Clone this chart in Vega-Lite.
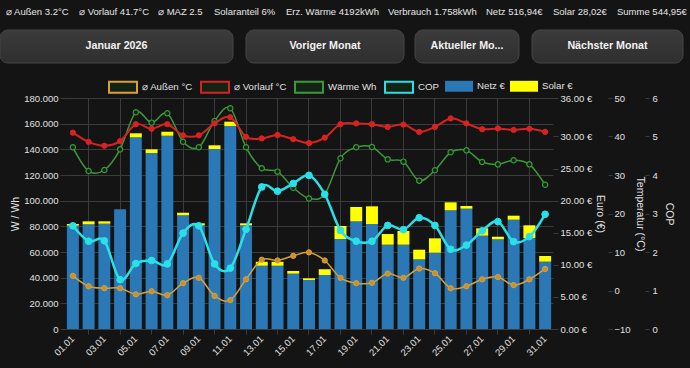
{
  "$schema": "https://vega.github.io/schema/vega-lite/v6.json",
  "width": 488,
  "height": 231,
  "autosize": {"type": "none"},
  "padding": {"left": 65, "top": 98, "right": 137, "bottom": 39},
  "background": "#141414",
  "config": {
    "view": {"stroke": null},
    "font": "Liberation Sans, Arial, sans-serif",
    "axis": {
      "labelColor": "#e0e0e0",
      "titleColor": "#e0e0e0",
      "labelFontSize": 9.5,
      "titleFontSize": 10.5,
      "titleFontWeight": "normal",
      "tickColor": "#3c3c3c",
      "gridColor": "#3c3c3c",
      "domain": false
    },
    "legend": {
      "labelColor": "#e0e0e0",
      "labelFontSize": 9.7
    }
  },
  "datasets": {
    "status": [
      {"t": "⌀ Außen 3.2°C", "x": 6},
      {"t": "⌀ Vorlauf 41.7°C", "x": 79},
      {"t": "⌀ MAZ 2.5", "x": 158},
      {"t": "Solaranteil 6%", "x": 214},
      {"t": "Erz. Wärme 4192kWh", "x": 286},
      {"t": "Verbrauch 1.758kWh", "x": 388},
      {"t": "Netz 516,94€", "x": 486},
      {"t": "Solar 28,02€", "x": 553},
      {"t": "Summe 544,95€", "x": 617}
    ],
    "buttons": [
      {"t": "Januar 2026", "x0": 0, "x1": 233},
      {"t": "Voriger Monat", "x0": 246, "x1": 404},
      {"t": "Aktueller Mo...", "x0": 415, "x1": 519},
      {"t": "Nächster Monat", "x0": 532, "x1": 683}
    ],
    "days": [
      {"day": 1, "aussen": 3.8, "vorlauf": 41.0, "waerme": 141600, "cop": 2.68, "netz": 16.10, "solar": 0.26},
      {"day": 2, "aussen": 1.1, "vorlauf": 38.6, "waerme": 123100, "cop": 2.28, "netz": 16.32, "solar": 0.46},
      {"day": 3, "aussen": 0.6, "vorlauf": 37.6, "waerme": 123900, "cop": 2.29, "netz": 16.41, "solar": 0.37},
      {"day": 4, "aussen": 0.6, "vorlauf": 38.8, "waerme": 140000, "cop": 1.28, "netz": 18.65, "solar": 0},
      {"day": 5, "aussen": -1.0, "vorlauf": 43.2, "waerme": 168900, "cop": 1.70, "netz": 29.87, "solar": 0.63},
      {"day": 6, "aussen": -0.2, "vorlauf": 42.0, "waerme": 160800, "cop": 1.78, "netz": 27.43, "solar": 0.57},
      {"day": 7, "aussen": -1.2, "vorlauf": 43.2, "waerme": 168100, "cop": 1.69, "netz": 30.12, "solar": 0.63},
      {"day": 8, "aussen": 1.9, "vorlauf": 40.3, "waerme": 145900, "cop": 2.49, "netz": 17.72, "solar": 0.40},
      {"day": 9, "aussen": 3.3, "vorlauf": 40.3, "waerme": 141600, "cop": 2.68, "netz": 16.16, "solar": 0.31},
      {"day": 10, "aussen": -1.4, "vorlauf": 43.4, "waerme": 162100, "cop": 1.69, "netz": 28.05, "solar": 0.58},
      {"day": 11, "aussen": -2.5, "vorlauf": 45.0, "waerme": 172000, "cop": 1.58, "netz": 31.64, "solar": 0.67},
      {"day": 12, "aussen": 2.9, "vorlauf": 39.9, "waerme": 141600, "cop": 2.59, "netz": 16.16, "solar": 0.31},
      {"day": 13, "aussen": 8.0, "vorlauf": 39.5, "waerme": 125200, "cop": 3.69, "netz": 9.86, "solar": 0.62},
      {"day": 14, "aussen": 7.8, "vorlauf": 40.4, "waerme": 122600, "cop": 3.58, "netz": 9.86, "solar": 0.62},
      {"day": 15, "aussen": 9.0, "vorlauf": 39.3, "waerme": 110100, "cop": 3.78, "netz": 8.62, "solar": 0.42},
      {"day": 16, "aussen": 9.9, "vorlauf": 38.3, "waerme": 101700, "cop": 3.99, "netz": 7.64, "solar": 0.26},
      {"day": 17, "aussen": 7.8, "vorlauf": 39.7, "waerme": 105000, "cop": 3.50, "netz": 8.42, "solar": 0.88},
      {"day": 18, "aussen": 3.3, "vorlauf": 43.2, "waerme": 133000, "cop": 2.56, "netz": 14.03, "solar": 2.02},
      {"day": 19, "aussen": 1.9, "vorlauf": 43.4, "waerme": 141600, "cop": 2.28, "netz": 16.78, "solar": 2.23},
      {"day": 20, "aussen": 2.0, "vorlauf": 43.2, "waerme": 141800, "cop": 2.28, "netz": 16.36, "solar": 2.76},
      {"day": 21, "aussen": 4.4, "vorlauf": 42.5, "waerme": 132200, "cop": 2.69, "netz": 13.14, "solar": 1.66},
      {"day": 22, "aussen": 3.3, "vorlauf": 43.1, "waerme": 130400, "cop": 2.58, "netz": 13.14, "solar": 2.13},
      {"day": 23, "aussen": 5.7, "vorlauf": 41.2, "waerme": 115600, "cop": 2.89, "netz": 10.86, "solar": 1.50},
      {"day": 24, "aussen": 4.5, "vorlauf": 42.5, "waerme": 123700, "cop": 2.69, "netz": 11.89, "solar": 2.24},
      {"day": 25, "aussen": 0.6, "vorlauf": 44.7, "waerme": 137700, "cop": 2.07, "netz": 18.50, "solar": 1.24},
      {"day": 26, "aussen": 1.1, "vorlauf": 43.4, "waerme": 139200, "cop": 2.18, "netz": 18.75, "solar": 0.42},
      {"day": 27, "aussen": 2.9, "vorlauf": 41.9, "waerme": 130100, "cop": 2.55, "netz": 14.54, "solar": 1.15},
      {"day": 28, "aussen": 3.5, "vorlauf": 42.1, "waerme": 128300, "cop": 2.79, "netz": 13.98, "solar": 0.40},
      {"day": 29, "aussen": 1.4, "vorlauf": 41.7, "waerme": 131500, "cop": 2.27, "netz": 17.03, "solar": 0.63},
      {"day": 30, "aussen": 2.9, "vorlauf": 42.0, "waerme": 128300, "cop": 2.40, "netz": 14.18, "solar": 1.98},
      {"day": 31, "aussen": 5.6, "vorlauf": 41.2, "waerme": 112400, "cop": 2.98, "netz": 10.49, "solar": 0.89}
    ]
  },
  "layer": [
    {
      "data": {"name": "status"},
      "mark": {"type": "text", "align": "left", "baseline": "middle", "fontSize": 9.5, "color": "#e6e6e6"},
      "encoding": {
        "x": {"field": "x", "type": "quantitative", "scale": {"domain": [0, 690], "range": [-65, 625], "nice": false, "zero": false}, "axis": null},
        "y": {"datum": 12, "type": "quantitative", "scale": {"domain": [0, 98], "range": [-98, 0], "nice": false, "zero": false}, "axis": null},
        "text": {"field": "t"}
      }
    },
    {
      "data": {"name": "buttons"},
      "mark": {
        "type": "rect",
        "cornerRadius": 8,
        "stroke": "#464646",
        "strokeWidth": 1,
        "fill": {"gradient": "linear", "x1": 0, "y1": 0, "x2": 0, "y2": 1, "stops": [{"offset": 0, "color": "#3b3b3b"}, {"offset": 1, "color": "#2f2f2f"}]}
      },
      "encoding": {
        "x": {"field": "x0", "type": "quantitative", "scale": {"domain": [0, 690], "range": [-65, 625], "nice": false, "zero": false}, "axis": null},
        "x2": {"field": "x1"},
        "y": {"datum": 30, "type": "quantitative", "scale": {"domain": [0, 98], "range": [-98, 0], "nice": false, "zero": false}, "axis": null},
        "y2": {"datum": 63}
      }
    },
    {
      "data": {"name": "buttons"},
      "transform": [{"calculate": "(datum.x0 + datum.x1) / 2", "as": "xc"}],
      "mark": {"type": "text", "align": "center", "baseline": "middle", "fontSize": 10.7, "fontWeight": "bold", "color": "#f2f2f2"},
      "encoding": {
        "x": {"field": "xc", "type": "quantitative", "scale": {"domain": [0, 690], "range": [-65, 625], "nice": false, "zero": false}, "axis": null},
        "y": {"datum": 46, "type": "quantitative", "scale": {"domain": [0, 98], "range": [-98, 0], "nice": false, "zero": false}, "axis": null},
        "text": {"field": "t"}
      }
    },
    {
      "data": {"name": "days"},
      "encoding": {
        "x": {
          "field": "day",
          "type": "ordinal",
          "scale": {"paddingInner": 0.24, "paddingOuter": 0.12},
          "axis": {
            "title": null,
            "values": [1,2,3,4,5,6,7,8,9,10,11,12,13,14,15,16,17,18,19,20,21,22,23,24,25,26,27,28,29,30,31],
            "labelExpr": "datum.value % 2 === 1 ? (datum.value < 10 ? '0' : '') + datum.value + '.01' : ''",
            "labelAngle": -45,
            "labelAlign": "right",
            "labelBaseline": "middle",
            "labelPadding": 3,
            "labelOverlap": false,
            "bandPosition": 0.5,
            "grid": true,
            "gridOpacity": {"condition": {"test": "datum.value % 2 === 0", "value": 1}, "value": 0},
            "tickOpacity": {"condition": {"test": "datum.value % 2 === 0", "value": 1}, "value": 0},
            "tickSize": 5,
            "domain": true,
            "domainColor": "#3c3c3c"
          }
        }
      },
      "layer": [
        {
          "transform": [{"fold": ["netz", "solar"], "as": ["key", "eur"]}],
          "mark": {"type": "bar"},
          "encoding": {
            "y": {
              "field": "eur",
              "type": "quantitative",
              "stack": "zero",
              "scale": {"domain": [0, 36], "nice": false},
              "axis": {
                "orient": "right",
                "values": [0, 5, 10, 15, 20, 25, 30, 36],
                "labelExpr": "format(datum.value, '.2f') + ' €'",
                "title": "Euro (€)",
                "tickSize": 5,
                "labelPadding": 2,
                "titlePadding": 3,
                "grid": false
              }
            },
            "order": {"field": "key", "type": "nominal", "sort": "ascending"},
            "fill": {
              "field": "key",
              "type": "nominal",
              "scale": {"domain": ["netz", "solar"], "range": ["#2a78b5", "#ffff00"]},
              "legend": {
                "orient": "none",
                "legendX": 380,
                "legendY": -26,
                "direction": "horizontal",
                "title": null,
                "symbolType": "M-1,-0.39H1V0.39H-1Z",
                "symbolSize": 784,
                "symbolStrokeWidth": 0,
                "labelOffset": 4,
                "columnPadding": 5,
                "labelExpr": "datum.value === 'netz' ? 'Netz €' : 'Solar €'"
              }
            }
          }
        },
        {
          "mark": {"type": "line", "interpolate": "cardinal", "strokeWidth": 1.5, "point": {"filled": false, "size": 28, "strokeWidth": 1.2, "fill": "#142414"}},
          "encoding": {
            "y": {
              "field": "waerme",
              "type": "quantitative",
              "scale": {"domain": [0, 180000], "nice": false},
              "axis": {
                "orient": "left",
                "values": [0, 20000, 40000, 60000, 80000, 100000, 120000, 140000, 160000, 180000],
                "labelExpr": "replace(format(datum.value, ','), ',', '.')",
                "title": "W / Wh",
                "grid": true,
                "tickSize": 5,
                "labelPadding": 2,
                "titlePadding": 3
              }
            },
            "stroke": {
              "datum": "waerme",
              "type": "nominal",
              "scale": {"domain": ["aussen", "vorlauf", "waerme", "cop"], "range": ["#d9a03a", "#d82222", "#3a9a3a", "#2ae0e8"]},
              "legend": {
                "orient": "none",
                "legendX": 43,
                "legendY": -26,
                "direction": "horizontal",
                "title": null,
                "symbolType": "M-1,-0.39H1V0.39H-1Z",
                "symbolSize": 784,
                "symbolStrokeWidth": 2,
                "symbolFillColor": "#221d18",
                "labelOffset": 4,
                "columnPadding": 4,
                "labelExpr": "datum.value === 'aussen' ? '⌀ Außen °C' : datum.value === 'vorlauf' ? '⌀ Vorlauf °C' : datum.value === 'waerme' ? 'Wärme Wh' : 'COP'"
              }
            }
          }
        },
        {
          "mark": {"type": "line", "interpolate": "cardinal", "strokeWidth": 1.5, "point": {"filled": true, "size": 28, "fill": "#c8902e", "strokeWidth": 1}},
          "encoding": {
            "y": {
              "field": "aussen",
              "type": "quantitative",
              "scale": {"domain": [-10, 50], "nice": false, "zero": false},
              "axis": {
                "orient": "right",
                "offset": 55,
                "values": [-10, 0, 10, 20, 30, 40, 50],
                "title": "Temperatur (°C)",
                "tickSize": 4,
                "labelPadding": 2,
                "titlePadding": 4,
                "grid": false
              }
            },
            "stroke": {"datum": "aussen", "type": "nominal"}
          }
        },
        {
          "mark": {"type": "line", "interpolate": "cardinal", "strokeWidth": 2, "point": {"filled": true, "size": 28, "fill": "#d82222", "strokeWidth": 1}},
          "encoding": {
            "y": {
              "field": "vorlauf",
              "type": "quantitative",
              "scale": {"domain": [-10, 50], "nice": false, "zero": false},
              "axis": null
            },
            "stroke": {"datum": "vorlauf", "type": "nominal"}
          }
        },
        {
          "mark": {"type": "line", "interpolate": "cardinal", "strokeWidth": 2.5, "point": {"filled": true, "size": 45, "fill": "#2ae0e8", "strokeWidth": 1}},
          "encoding": {
            "y": {
              "field": "cop",
              "type": "quantitative",
              "scale": {"domain": [0, 6], "nice": false},
              "axis": {
                "orient": "right",
                "offset": 92,
                "values": [0, 1, 2, 3, 4, 5, 6],
                "title": "COP",
                "tickSize": 4,
                "labelPadding": 3,
                "titlePadding": 6,
                "grid": false
              }
            },
            "stroke": {"datum": "cop", "type": "nominal"}
          }
        }
      ],
      "resolve": {"scale": {"y": "independent"}}
    }
  ],
  "resolve": {"scale": {"x": "independent", "y": "independent"}}
}
